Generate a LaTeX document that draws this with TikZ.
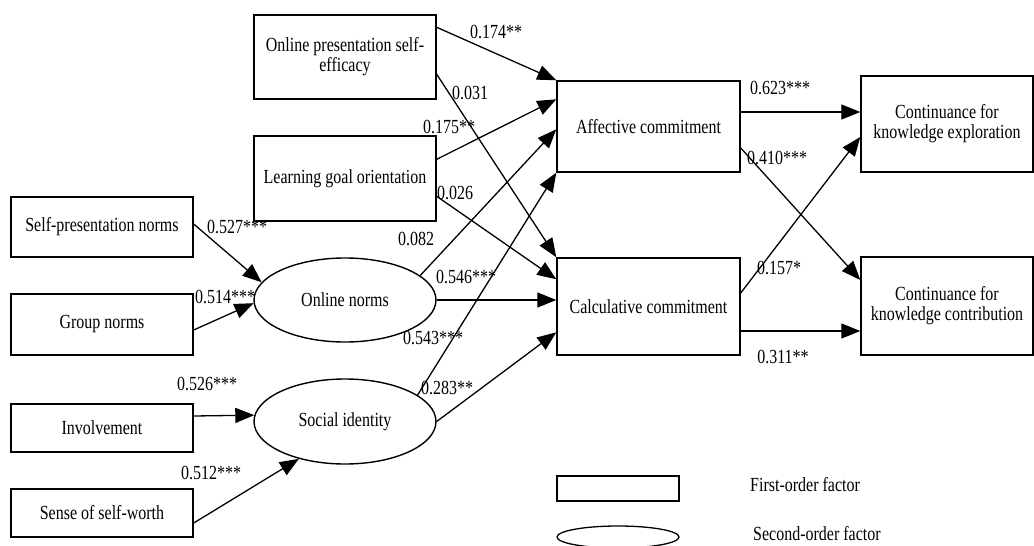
\documentclass[tikz,border=0pt]{standalone}
\usepackage{fontspec}
\setmainfont[FakeStretch=0.8]{Liberation Serif}
\usetikzlibrary{arrows.meta,shapes.geometric,calc}
\begin{document}
\begin{tikzpicture}[x=1pt,y=-1pt,
  every node/.style={font=\fontsize{20}{20}\selectfont, inner sep=0pt},
  fbox/.style={draw, line width=1.4pt, align=center},
  fell/.style={draw, ellipse, line width=1.4pt},
  conn/.style={line width=1.3pt, -{Triangle[length=19pt,width=15pt]}}]
\useasboundingbox (0,0) rectangle (1034,546);
\fill[white] (0,0) rectangle (1034,546);

% first-order factors, left column
\node[fbox, minimum width=182pt, minimum height=60pt] (spn) at (102,227) {Self-presentation norms};
\node[fbox, minimum width=182pt, minimum height=61pt] (gn) at (102,324.5) {Group norms};
\node[fbox, minimum width=182pt, minimum height=48pt] (inv) at (102,428) {Involvement};
\node[fbox, minimum width=182pt, minimum height=48pt] (ssw) at (102,513) {Sense of self-worth};

% middle column
\node[fbox, minimum width=182pt, minimum height=84pt] (ops) at (345,57) {Online presentation self-\\efficacy};
\node[fbox, minimum width=182pt, minimum height=85pt] (lgo) at (345,178.5) {Learning goal orientation};
\node[fell, minimum width=182pt, minimum height=84pt] (on) at (345,300) {Online norms};
\node[fell, minimum width=182pt, minimum height=85pt] (si) at (345,421.5) {Social identity};

% commitments
\node[fbox, minimum width=183pt, minimum height=91pt] (aff) at (648.5,126.5) {Affective commitment};
\node[fbox, minimum width=183pt, minimum height=97pt] (cal) at (648.5,306.5) {Calculative commitment};

% outcomes
\node[fbox, minimum width=172pt, minimum height=96pt] (cke) at (947,124) {Continuance for\\knowledge exploration};
\node[fbox, minimum width=172pt, minimum height=98pt] (ccc) at (947,306) {Continuance for\\knowledge contribution};

% connectors
\draw[conn] ($(spn.east)+(0,-3)$) -- (on.168);
\draw[conn] ($(gn.east)+(0,5.5)$) -- (on.182);
\draw[conn] ($(inv.east)+(0,-12)$) -- (si.176);
\draw[conn] ($(ssw.east)+(0,10)$) -- (si.219);

\draw[conn] ($(ops.north east)+(0,13)$) -- (aff.north west);
\draw[conn] ($(ops.north east)+(0,60)$) -- (cal.north west);
\draw[conn] ($(lgo.north east)+(0,24)$) -- ($(aff.north west)+(0,19)$);
\draw[conn] ($(lgo.north east)+(0,61)$) -- ($(cal.north west)+(0,22)$);
\draw[conn] (on.18) -- ($(aff.north west)+(0,49)$);
\draw[conn] (on.east) -- (on.east -| cal.west);
\draw[conn] (si.20) -- (aff.south west);
\draw[conn] (si.east) -- ($(cal.north west)+(0,75)$);

\draw[conn] ($(aff.east)+(0,-14.5)$) -- ($(cke.west)+(0,-12)$);
\draw[conn] ($(aff.east)+(0,21.5)$) -- ($(ccc.west)+(0,-26)$);
\draw[conn] ($(cal.east)+(0,-13.5)$) -- ($(cke.west)+(0,13)$);
\draw[conn] ($(cal.east)+(0,24.5)$) -- ($(ccc.west)+(0,25)$);

% path labels
\node (l1) at (237,227) {0.527***};
\node (l2) at (225,297) {0.514***};
\node (l3) at (207,384) {0.526***};
\node (l4) at (211,473) {0.512***};
\node (l5) at (496,32) {0.174**};
\node (l6) at (470,93) {0.031};
\node (l7) at (449,127) {0.175**};
\node (l8) at (455,193) {0.026};
\node (l9) at (416,239) {0.082};
\node (l10) at (466,277) {0.546***};
\node (l11) at (433,338) {0.543***};
\node (l12) at (447,388) {0.283**};
\node (l13) at (780,88) {0.623***};
\node (l14) at (777,158) {0.410***};
\node (l15) at (779,268) {0.157*};
\node (l16) at (783,357) {0.311**};

% legend
\node[draw, line width=1.3pt, minimum width=122pt, minimum height=25pt] (legr) at (618,488.5) {};
\node[draw, ellipse, line width=1.3pt, minimum width=122pt, minimum height=22pt] (lege) at (618,537) {};
\node[anchor=west] (legrt) at (750,485) {First-order factor};
\node[anchor=west] (leget) at (753,534) {Second-order factor};
\end{tikzpicture}
\end{document}
